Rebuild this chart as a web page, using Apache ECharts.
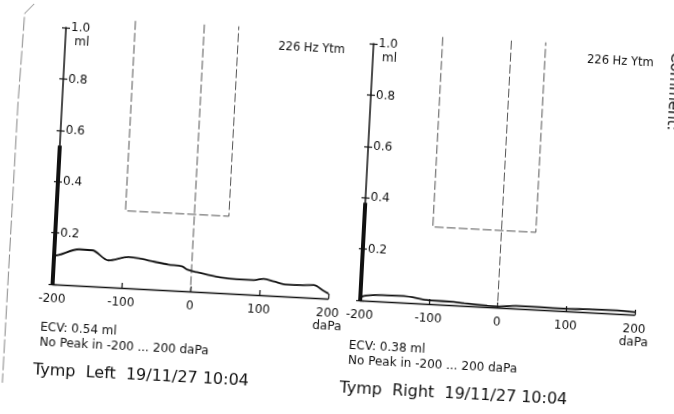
<!DOCTYPE html>
<html>
<head>
<meta charset="utf-8">
<script src="https://cdn.jsdelivr.net/npm/echarts@6/dist/echarts.min.js"></script>
<style>
  html, body { margin: 0; padding: 0; background: #fff; overflow: hidden; }
  /* the printout was scanned slightly askew */
  #tymp { width: 674px; height: 414px; transform: rotate(3deg); transform-origin: 337px 207px; }
</style>
</head>
<body>
<div id="tymp"></div>
<script>
// pressure axis (daPa)
const pressureTicks = [-200, -100, 0, 100, 200];

// left ear, compliance (ml)
const leftPressure = [-200, -193, -164, -145, -121, -92, -77, -54, -34, -14, -6, 8, 23, 42, 66, 91, 105, 120, 139, 159, 178, 193, 200];
const leftCompliance = [0.11, 0.115, 0.141, 0.14, 0.104, 0.121, 0.118, 0.108, 0.1, 0.096, 0.084, 0.076, 0.069, 0.061, 0.057, 0.057, 0.064, 0.056, 0.046, 0.047, 0.05, 0.029, 0.02];

// right ear
const rightPressure = [-200, -196, -166, -137, -103, -64, -49, -15, 0, 27, 61, 100, 134, 174, 200];
const rightCompliance = [0.0, 0.017, 0.025, 0.026, 0.015, 0.013, 0.01, 0.005, 0.004, 0.01, 0.01, 0.009, 0.012, 0.013, 0.01];

// ear canal volume (ml)
const ecvLeft = 0.54;
const ecvRight = 0.38;

// normal region box
const boxPressure = [-100, 50];
const boxFloor = 0.3;
const boxTop = 1.04;

const ink = '#111';
const fontFam = 'DejaVu Sans';

var myChart = echarts.init(document.getElementById('tymp'));

function makeX(gridIndex) {
  return {
    type: 'value', gridIndex: gridIndex, min: -200, max: 200, interval: pressureTicks[1] - pressureTicks[0],
    axisLine: { lineStyle: { color: ink, width: 1.3 } },
    axisTick: { inside: true, length: 5, lineStyle: { color: ink, width: 1.2 } },
    splitLine: { show: false },
    axisLabel: {
      color: ink, fontFamily: fontFam, fontSize: 12, margin: 8, lineHeight: 13,
      formatter: v => (v === 200 ? '200\ndaPa' : String(v))
    }
  };
}

// main = axis line, labels, ticks on the inside; the other one only adds
// the outside half of each tick so that they cross the line
function makeY(gridIndex, main) {
  return {
    type: 'value', gridIndex: gridIndex, position: 'left', min: 0, max: 1, interval: 0.2,
    name: main ? 'ml' : '', nameLocation: 'end', nameGap: -20,
    nameTextStyle: { color: ink, fontFamily: fontFam, fontSize: 12, align: 'left', padding: [0, 0, 0, 9] },
    axisLine: { show: main, onZero: false, lineStyle: { color: ink, width: 1.5 } },
    axisTick: { inside: main, length: 4, lineStyle: { color: ink, width: 1.2 } },
    splitLine: { show: false },
    axisLabel: {
      show: main, inside: true, margin: 5, color: ink, fontFamily: fontFam, fontSize: 12,
      formatter: v => (v === 0 ? '' : v.toFixed(1))
    }
  };
}

function earSeries(xi, yi, pressure, compliance, ecv) {
  const dash = { color: '#555', width: 1, type: [9, 3] };
  return [
    {
      type: 'line', xAxisIndex: xi, yAxisIndex: yi, symbol: 'none', clip: false,
      data: [[boxPressure[0], boxTop], [boxPressure[0], boxFloor], [boxPressure[1], boxFloor], [boxPressure[1], boxTop]],
      lineStyle: dash, silent: true
    },
    {
      type: 'line', xAxisIndex: xi, yAxisIndex: yi, symbol: 'none', clip: false,
      data: [[0, boxTop], [0, 0]], lineStyle: dash, silent: true
    },
    {
      type: 'line', xAxisIndex: xi, yAxisIndex: yi, symbol: 'none',
      data: [[-200, 0], [-200, ecv]], lineStyle: { color: ink, width: 4 }
    },
    {
      type: 'line', xAxisIndex: xi, yAxisIndex: yi, symbol: 'none', smooth: 0.3,
      data: pressure.map((p, i) => [p, compliance[i]]),
      lineStyle: { color: ink, width: 1.8 }
    }
  ];
}

function txt(left, top, text, size) {
  return { left: left, top: top, text: text, textStyle: { color: ink, fontFamily: fontFam, fontSize: size || 12, fontWeight: 'normal' } };
}

var option = {
  backgroundColor: '#fff',
  animation: false,
  title: [
    txt(265, 39, '226 Hz Ytm', 11.5),
    txt(574, 36, '226 Hz Ytm', 11.5),
    txt(42, 332, 'ECV: 0.54 ml'),
    txt(42, 347, 'No Peak in -200 ... 200 daPa'),
    txt(37, 373, 'Tymp  Left  19/11/27 10:04', 16),
    txt(351, 334, 'ECV: 0.38 ml'),
    txt(351, 349, 'No Peak in -200 ... 200 daPa'),
    txt(344, 375, 'Tymp  Right  19/11/27 10:04', 16)
  ],
  grid: [
    { left: 57, top: 42, width: 276, height: 257 },
    { left: 365, top: 42, width: 275, height: 257 }
  ],
  xAxis: [makeX(0), makeX(1)],
  yAxis: [makeY(0, true), makeY(0, false), makeY(1, true), makeY(1, false)],
  series: [].concat(
    earSeries(0, 0, leftPressure, leftCompliance, ecvLeft),
    earSeries(1, 2, rightPressure, rightCompliance, ecvRight)
  ),
  graphic: [
    // paper edge of the scan
    {
      type: 'polyline', silent: true,
      shape: { points: [[24, 20], [15, 30], [13, 120], [12, 400]] },
      style: { stroke: '#888', lineWidth: 1, lineDash: [14, 3], fill: null }
    },
    {
      type: 'text', x: 667, y: 74, rotation: -Math.PI / 2,
      style: { text: 'Comment:', font: '15px DejaVu Sans', fill: ink, align: 'center', verticalAlign: 'middle' }
    }
  ]
};

myChart.setOption(option);
</script>
</body>
</html>
